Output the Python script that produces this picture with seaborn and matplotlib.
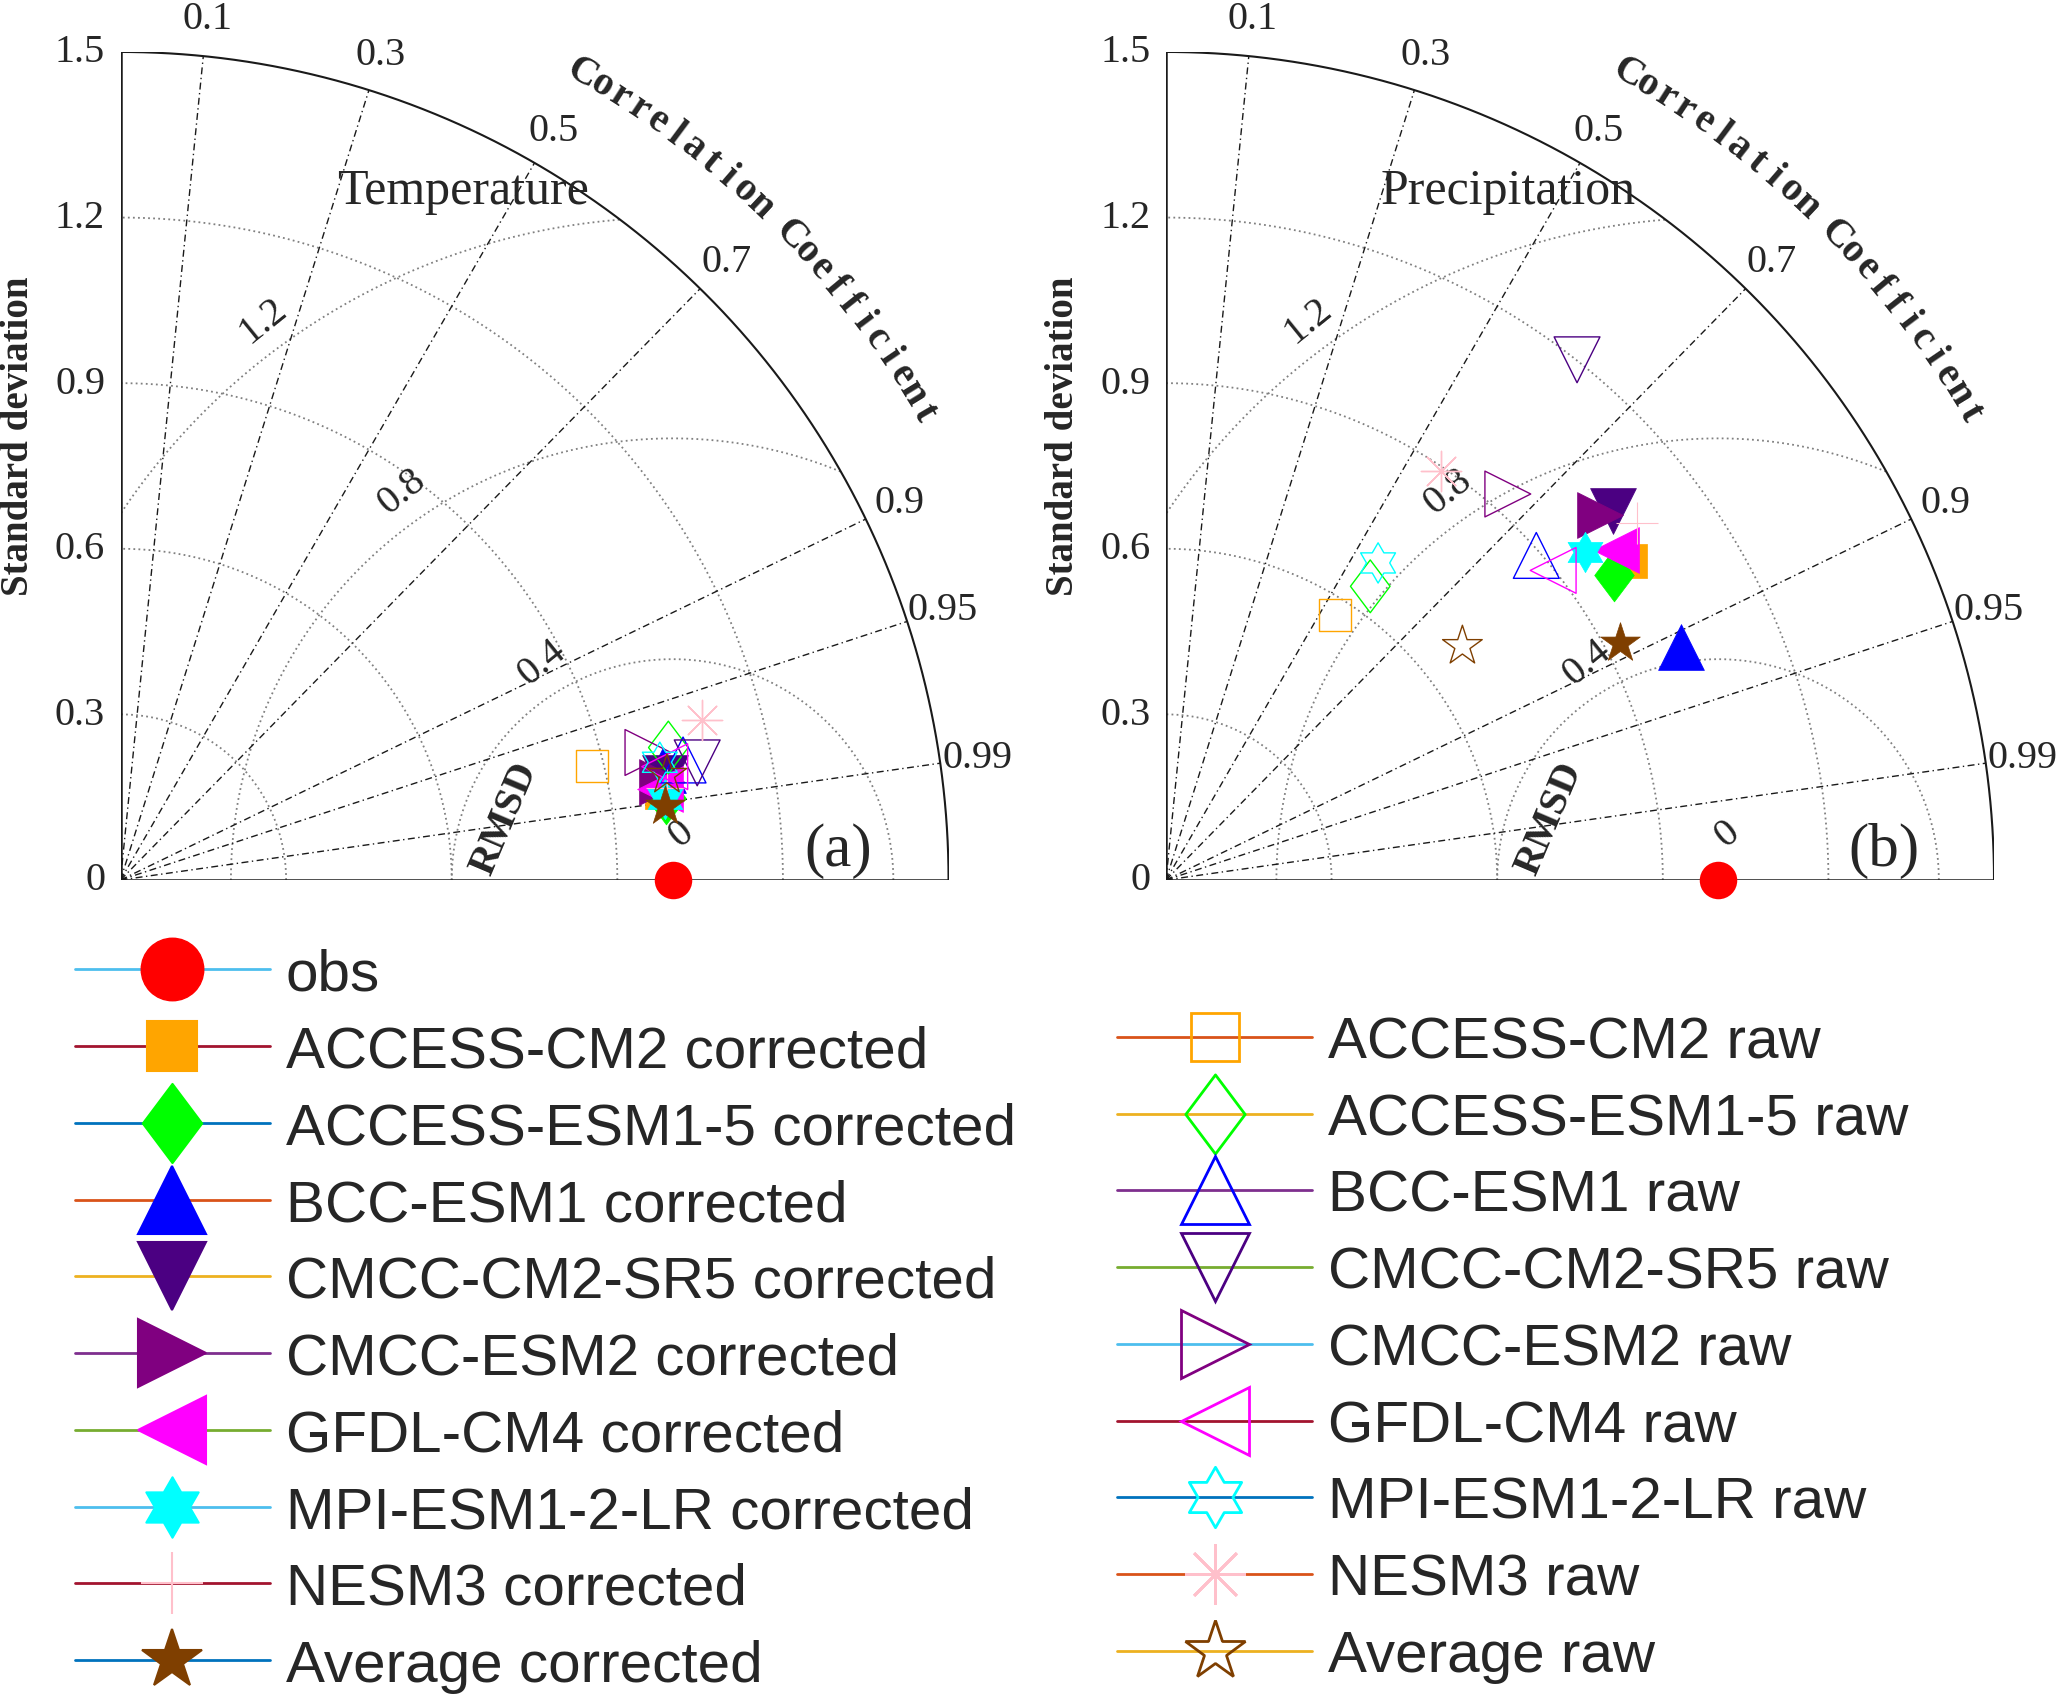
import numpy as np
import matplotlib
matplotlib.use("Agg")
import matplotlib.pyplot as plt
import seaborn as sns
from matplotlib.lines import Line2D
from matplotlib.path import Path

# --- 数据 ---
models = ["ACCESS-CM2", "ACCESS-ESM1-5", "BCC-ESM1", "CMCC-CM2-SR5", "CMCC-ESM2",
          "GFDL-CM4", "MPI-ESM1-2-LR", "NESM3", "Average"]

obs_std = 1.0
obs_corr = 1.0

# Temperature (标准差, 相关系数)
tas_corrected_std = [0.993, 1.000, 1.003, 1.003, 0.996, 0.991, 0.997, 1.004, 0.995]
tas_corrected_r = [0.987, 0.989, 0.980, 0.983, 0.984, 0.986, 0.989, 0.986, 0.991]
tas_raw_std = [0.878, 1.021, 1.042, 1.066, 0.983, 1.007, 1.000, 1.093, 1.008]
tas_raw_r = [0.972, 0.972, 0.978, 0.980, 0.972, 0.979, 0.977, 0.964, 0.982]

# Precipitation
pr_corrected_std = [1.020, 0.982, 1.025, 1.051, 1.027, 1.011, 0.964, 1.071, 0.928]
pr_corrected_r = [0.824, 0.827, 0.911, 0.771, 0.765, 0.807, 0.788, 0.797, 0.887]
pr_raw_std = [0.569, 0.648, 0.892, 1.201, 0.934, 0.898, 0.691, 0.893, 0.684]
pr_raw_r = [0.538, 0.571, 0.752, 0.620, 0.663, 0.781, 0.556, 0.557, 0.785]

std_ticks = [0, 0.3, 0.6, 0.9, 1.2, 1.5]
std_tick_labels = ["0", "0.3", "0.6", "0.9", "1.2", "1.5"]
std_arcs = [0.3, 0.6, 0.9, 1.2]
corr_ticks = [0.1, 0.3, 0.5, 0.7, 0.9, 0.95, 0.99]
rmsd_levels = [0, 0.4, 0.8, 1.2]
rmsd_labels = ["0", "0.4", "0.8", "1.2"]

# --- 样式 ---
ang = np.deg2rad(np.arange(12) * 30 + 90)
rad = np.where(np.arange(12) % 2 == 0, 1.0, 1 / np.sqrt(3))
hv = np.column_stack([rad * np.cos(ang), rad * np.sin(ang)])
hexagram = Path(np.vstack([hv, hv[:1]]), closed=True)
diamond = Path([(0, 1), (0.75, 0), (0, -1), (-0.75, 0), (0, 1)], closed=True)

model_colors = ['#FFA500', '#00FF00', '#0000FF', '#4B0082', '#800080',
                '#FF00FF', '#00FFFF', '#FFC0CB', '#7F3F00']
corr_markers = ['s', diamond, '^', 'v', '>', '<', hexagram, '+', '*']
raw_markers = ['s', diamond, '^', 'v', '>', '<', hexagram, (8, 2, 0), '*']
corr_ms = [24, 38, 33, 33, 33, 33, 29, 30, 30]
raw_ms = [23, 38, 33, 33, 33, 33, 29, 29, 30]

ml = ['#0072BD', '#D95319', '#EDB120', '#7E2F8E', '#77AC30', '#4DBEEE', '#A2142F']
obs_line = ml[5]
corr_lines = [ml[6], ml[0], ml[1], ml[2], ml[3], ml[4], ml[5], ml[6], ml[0]]
raw_lines = [ml[1], ml[2], ml[3], ml[4], ml[5], ml[6], ml[0], ml[1], ml[2]]

sns.set_theme(style="white")
plt.rcParams['font.family'] = ['Liberation Serif', 'DejaVu Serif']

SERIF = 'Liberation Serif'
R_MAX = 1.5


def to_xy(std, r):
    std = np.asarray(std, dtype=float)
    r = np.asarray(r, dtype=float)
    return std * r, std * np.sqrt(1 - r ** 2)


def draw_panel(ax, title, tag, c_std, c_r, r_std, r_r):
    t = np.linspace(0, np.pi / 2, 400)
    dot = (0, (1, 1.8))
    # 标准差弧线
    for s in std_arcs:
        ax.plot(s * np.cos(t), s * np.sin(t), color='#808080', lw=1.3, ls=dot, zorder=1)
    # RMSD 圆
    phi = np.linspace(0, np.pi, 3000)
    for r in rmsd_levels[1:]:
        x = obs_std + r * np.cos(phi)
        y = r * np.sin(phi)
        bad = (x < 0) | (x ** 2 + y ** 2 > R_MAX ** 2)
        ax.plot(np.where(bad, np.nan, x), np.where(bad, np.nan, y),
                color='#808080', lw=1.3, ls=dot, zorder=1)
    # 相关系数射线
    for c in corr_ticks:
        a = np.arccos(c)
        ax.plot([0, R_MAX * np.cos(a)], [0, R_MAX * np.sin(a)], color='k', lw=1.0,
                ls=(0, (5, 2.5, 1, 2.5)), zorder=1)
        ax.text(1.568 * np.cos(a), 1.568 * np.sin(a), f"{c:g}", ha='center', va='center',
                fontsize=29, family=SERIF)
    ax.plot(R_MAX * np.cos(t), R_MAX * np.sin(t), color='k', lw=1.5, zorder=2)
    ax.plot([0, 0], [0, R_MAX], color='k', lw=1.8, zorder=2)
    ax.plot([0, R_MAX], [0, 0], color='k', lw=1.8, zorder=2)

    for v, lab in zip(std_ticks, std_tick_labels):
        ax.text(-0.028, v, lab, ha='right', va='center', fontsize=29, family=SERIF)
    ax.text(-0.185, 0.806, "Standard deviation", rotation=90, ha='center', va='center',
            fontsize=28, fontweight='bold', family=SERIF)

    # RMSD 标签
    d = np.deg2rad(129.2)
    for r, lab in zip(rmsd_levels, rmsd_labels):
        ax.text(obs_std + 0.016 + r * np.cos(d), 0.085 + r * np.sin(d), lab, rotation=39,
                ha='center', va='center', fontsize=29, family=SERIF, rotation_mode='anchor')
    ax.text(0.696, 0.113, "RMSD", rotation=67, ha='center', va='center', fontsize=29,
            fontweight='bold', family=SERIF, rotation_mode='anchor')

    # 弧形标题 (逐字放置)
    text = "Correlation Coefficient"
    steps = [0.0] + [0.9 if ch == ' ' else 1.0 for ch in text[1:]]
    pos = np.cumsum(steps)
    pos = pos / pos[-1]
    for ch, p in zip(text, pos):
        if ch == ' ':
            continue
        a = 60.2 - 30.0 * p
        ar = np.deg2rad(a)
        ax.text(1.685 * np.cos(ar), 1.685 * np.sin(ar), ch, rotation=a - 90,
                rotation_mode='anchor', ha='center', va='center', fontsize=29,
                fontweight='bold', family=SERIF)

    ax.text(0.62, 1.248, title, ha='center', va='center', fontsize=36, family=SERIF)
    ax.text(1.30, 0.055, tag, ha='center', va='center', fontsize=44, family=SERIF)

    # 观测点
    ox, oy = to_xy([obs_std], [obs_corr])
    sns.scatterplot(x=ox, y=oy, ax=ax, marker='o', s=27 ** 2, color='red',
                    edgecolor='red', linewidth=0, zorder=5, clip_on=False)
    # 订正后
    cx, cy = to_xy(c_std, c_r)
    for i in range(len(models)):
        sns.scatterplot(x=[cx[i]], y=[cy[i]], ax=ax, marker=corr_markers[i],
                        s=corr_ms[i] ** 2, color=model_colors[i], edgecolor=model_colors[i],
                        linewidth=0.8 if corr_markers[i] == '+' else 0.5, zorder=4,
                        clip_on=False)
    # 原始
    rx, ry = to_xy(r_std, r_r)
    for i in range(len(models)):
        if i == 7:
            sns.scatterplot(x=[rx[i]], y=[ry[i]], ax=ax, marker=raw_markers[i],
                            s=raw_ms[i] ** 2, color=model_colors[i], linewidth=1.0,
                            zorder=4, clip_on=False)
        else:
            sns.scatterplot(x=[rx[i]], y=[ry[i]], ax=ax, marker=raw_markers[i],
                            s=raw_ms[i] ** 2, facecolor='none', edgecolor=model_colors[i],
                            linewidth=1.0, zorder=4, clip_on=False)

    ax.set_xlim(0, R_MAX)
    ax.set_ylim(0, R_MAX)
    ax.axis('off')


fig = plt.figure(figsize=(20.67, 17.08), dpi=100)
ax_a = fig.add_axes([0.0583, 0.4842, 0.4006, 0.4848])
ax_b = fig.add_axes([0.5641, 0.4842, 0.4006, 0.4848])

draw_panel(ax_a, "Temperature", "(a)", tas_corrected_std, tas_corrected_r, tas_raw_std, tas_raw_r)
draw_panel(ax_b, "Precipitation", "(b)", pr_corrected_std, pr_corrected_r, pr_raw_std, pr_raw_r)

# --- 图例 ---
LEG_SCALE = 1.5
left_handles = [Line2D([], [], color=obs_line, lw=2.0, marker='o', ms=45,
                       mfc='red', mec='red')]
left_labels = ["obs"]
for i, m in enumerate(models):
    left_handles.append(Line2D([], [], color=corr_lines[i], lw=2.0, marker=corr_markers[i],
                               ms=corr_ms[i] * LEG_SCALE, mfc=model_colors[i],
                               mec=model_colors[i], mew=1.5))
    left_labels.append(f"{m} corrected")

right_handles, right_labels = [], []
for i, m in enumerate(models):
    right_handles.append(Line2D([], [], color=raw_lines[i], lw=2.0, marker=raw_markers[i],
                                ms=raw_ms[i] * LEG_SCALE, mfc='none',
                                mec=model_colors[i], mew=2.0))
    right_labels.append(f"{m} raw")

leg_kw = dict(loc='upper left', frameon=False, borderpad=0, borderaxespad=0,
              handlelength=3.34, handletextpad=0.27, labelspacing=0.39,
              prop={'family': 'Liberation Sans', 'size': 42})
fig.legend(left_handles, left_labels, bbox_to_anchor=(0.0363, 0.4445), **leg_kw)
fig.legend(right_handles, right_labels, bbox_to_anchor=(0.5406, 0.4050), **leg_kw)

fig.savefig("out.png", dpi=100)
